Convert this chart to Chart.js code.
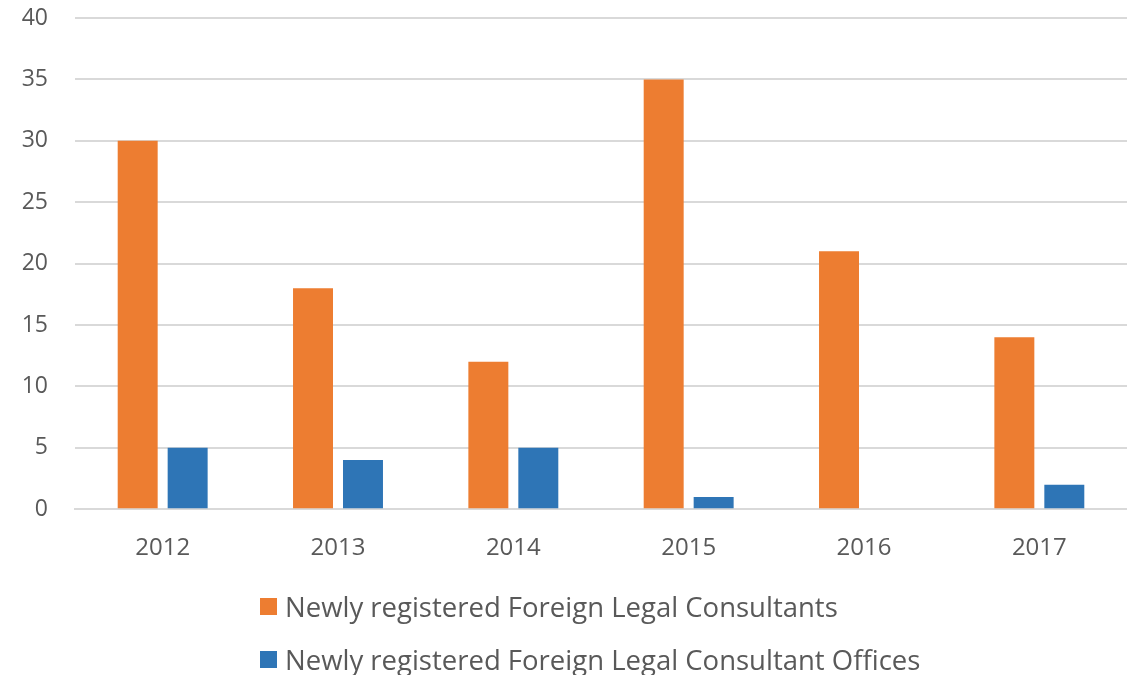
<!DOCTYPE html>
<html>
<head>
<meta charset="utf-8">
<script src="https://cdn.jsdelivr.net/npm/chart.js@4/dist/chart.umd.min.js"></script>
<style>
  html, body { margin: 0; padding: 0; background: #fff; }
  #wrap { position: relative; width: 1127px; height: 675px; }
  #legend { position: absolute; left: 260px; top: 588px; font-family: "Open Sans", sans-serif; font-size: 27.5px; color: #595959; }
  .item { display: flex; align-items: center; height: 36px; margin-bottom: 17px; }
  .sw { width: 17px; height: 17px; margin-right: 8px; }
</style>
</head>
<body>
<div id="wrap">
  <canvas id="c" width="1127" height="675"></canvas>
  <div id="legend"></div>
</div>
<script>
const categories = ["2012", "2013", "2014", "2015", "2016", "2017"];
const consultants = [30, 18, 12, 35, 21, 14];
const offices = [5, 4, 5, 1, 0, 2];
const seriesNames = ["Newly registered Foreign Legal Consultants", "Newly registered Foreign Legal Consultant Offices"];
const colors = ["#ED7D31", "#2E75B6"];

const font = { family: "'Open Sans', sans-serif", size: 24 };

const chart = new Chart(document.getElementById('c'), {
  type: 'bar',
  data: {
    labels: categories,
    datasets: [
      { label: seriesNames[0], data: consultants, backgroundColor: colors[0], categoryPercentage: 0.57, barPercentage: 0.8 },
      { label: seriesNames[1], data: offices, backgroundColor: colors[1], categoryPercentage: 0.57, barPercentage: 0.8 }
    ]
  },
  options: {
    responsive: false,
    animation: false,
    layout: { padding: { top: 18, right: 0, bottom: 87, left: 0 } },
    plugins: { legend: { display: false }, tooltip: { enabled: false } },
    scales: {
      x: {
        grid: { display: false, drawTicks: false },
        border: { display: true, color: '#d9d9d9', width: 2 },
        ticks: { font: font, color: '#595959', padding: 25 }
      },
      y: {
        min: 0, max: 40,
        ticks: { stepSize: 5, font: { family: font.family, size: 23 }, color: '#595959', padding: 27 },
        grid: { color: '#d9d9d9', lineWidth: 2, drawTicks: false },
        border: { display: false },
        afterFit: (s) => { s.width = 75; s.paddingTop = 0; s.paddingBottom = 0; }
      }
    }
  }
});

const leg = document.getElementById('legend');
seriesNames.forEach((n, i) => {
  const d = document.createElement('div');
  d.className = 'item';
  d.innerHTML = '<span class="sw" style="background:' + colors[i] + '"></span><span>' + n + '</span>';
  leg.appendChild(d);
});
</script>
</body>
</html>
